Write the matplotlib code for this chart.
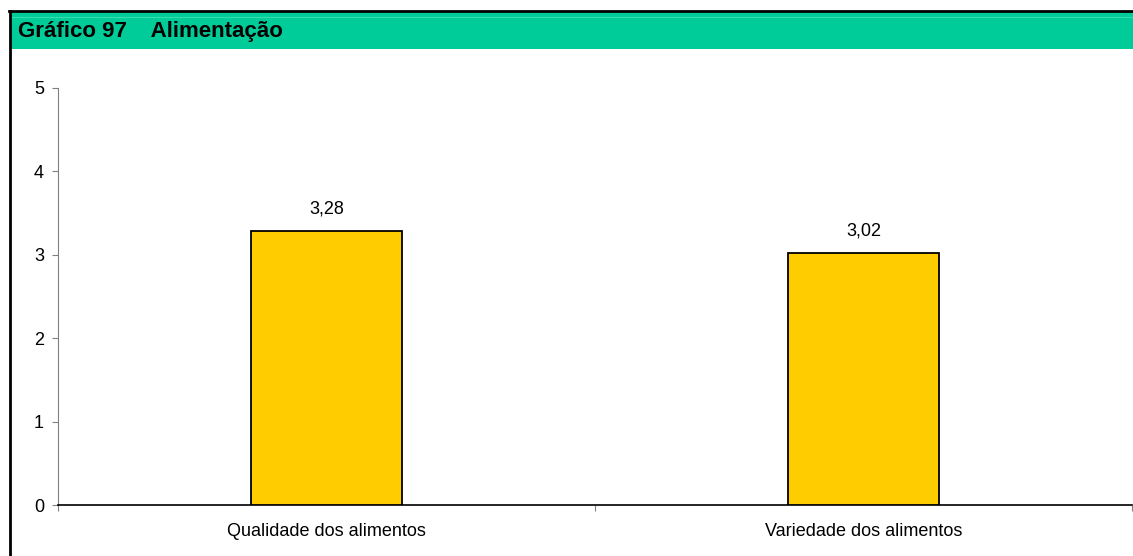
import matplotlib.pyplot as plt
from matplotlib.patches import Rectangle
from matplotlib.lines import Line2D

plt.rcParams['font.family'] = ['Liberation Sans', 'DejaVu Sans']

categorias = ['Qualidade dos alimentos', 'Variedade dos alimentos']
valores = [3.28, 3.02]
rotulos = ['3,28', '3,02']
titulo = 'Gráfico 97    Alimentação'

W, H = 1133, 556
fig = plt.figure(figsize=(W / 100, H / 100), dpi=100)

# cabeçalho verde
fig.patches.append(Rectangle((10 / W, 1 - 49 / H), 1 - 10 / W, 37 / H,
                             transform=fig.transFigure, facecolor='#00CC99',
                             edgecolor='none', zorder=0))
fig.lines.append(Line2D([10 / W, 1], [1 - 17 / H] * 2, transform=fig.transFigure,
                        color='#33DDAA', lw=0.8))
# moldura preta
fig.lines.append(Line2D([9.5 / W, 9.5 / W], [0, 1 - 11 / H], transform=fig.transFigure,
                        color='black', lw=2))
fig.lines.append(Line2D([8.5 / W, 1], [1 - 11 / H] * 2, transform=fig.transFigure,
                        color='black', lw=2))
fig.text(18 / W, 1 - 32 / H, titulo, fontsize=16, fontweight='bold',
         va='center', ha='left')

ax = fig.add_axes([58 / W, 51 / H, (1132 - 58) / W, (505 - 88) / H])
x = list(range(len(categorias)))
ax.bar(x, valores, width=0.28, color='#FFCC00', edgecolor='black', linewidth=1.3, zorder=3)
for xi, v, r in zip(x, valores, rotulos):
    ax.annotate(r, (xi, v), xytext=(0, 10), textcoords='offset points',
                ha='center', va='bottom', fontsize=13)

ax.set_xlim(-0.5, 1.5)
ax.set_ylim(0, 5)
ax.set_yticks([0, 1, 2, 3, 4, 5])
ax.tick_params(axis='y', direction='out', length=4, color='#808080', labelsize=13, pad=6)
ax.set_xticks([-0.5, 0.5, 1.5])
ax.set_xticklabels([])
ax.set_xticks(x, minor=True)
ax.set_xticklabels(categorias, minor=True)
ax.tick_params(axis='x', which='major', direction='out', length=4, color='#808080')
ax.tick_params(axis='x', which='minor', length=0, labelsize=13, pad=13)

for s in ['top', 'right']:
    ax.spines[s].set_visible(False)
ax.spines['left'].set_color('#808080')
ax.spines['bottom'].set_color('black')
ax.spines['bottom'].set_linewidth(1.2)

fig.savefig('out.png', dpi=100)
